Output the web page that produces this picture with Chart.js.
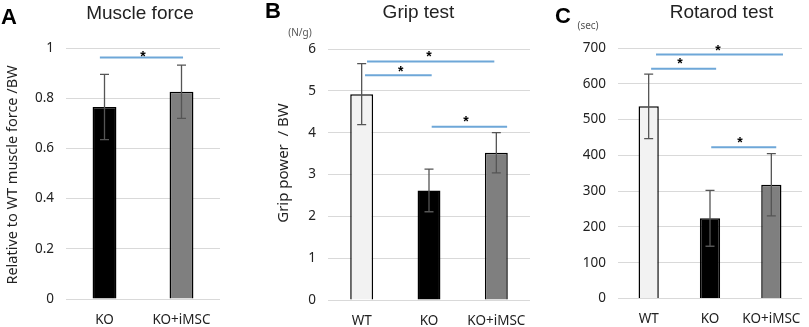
<!DOCTYPE html>
<html>
<head>
<meta charset="utf-8">
<script src="https://cdn.jsdelivr.net/npm/chart.js@4.4.1/dist/chart.umd.min.js"></script>
<style>
  html, body { margin: 0; padding: 0; background: #fff; }
  body { width: 809px; height: 327px; position: relative; overflow: hidden; }
  .panel { position: absolute; top: 0; }
</style>
</head>
<body>
<div class="panel" style="left:0px"><canvas id="cA" width="265" height="327"></canvas></div>
<div class="panel" style="left:265px"><canvas id="cB" width="275" height="327"></canvas></div>
<div class="panel" style="left:540px"><canvas id="cC" width="269" height="327"></canvas></div>
<script>
// ---- data ----
const catsA = ['KO', 'KO+iMSC'];
const muscleForce = [0.765, 0.826];
const muscleForceErr = [0.13, 0.106];
const ticksA = [0, 0.2, 0.4, 0.6, 0.8, 1];

const catsBC = ['WT', 'KO', 'KO+iMSC'];
const gripPower = [4.92, 2.62, 3.52];
const gripErr = [0.73, 0.51, 0.48];
const ticksB = [0, 1, 2, 3, 4, 5, 6];

const rotarod = [537, 224, 318];
const rotarodErr = [90, 78, 87];
const ticksC = [0, 100, 200, 300, 400, 500, 600, 700];

// significance bars: [from category, to category, y value]
const sigA = [[-0.06, 1.02, 0.962]];
const starsA = [[0.5, 0.98]];
const sigB = [[0.08, 1.97, 5.70], [0.05, 1.04, 5.37], [1.04, 2.16, 4.14]];
const starsB = [[1.0, 5.90], [0.58, 5.53], [1.55, 4.33]];
const sigC = [[0.12, 2.19, 682], [0.04, 1.10, 642], [1.02, 2.08, 423]];
const starsC = [[1.13, 701], [0.51, 664], [1.49, 445]];

const fillsA = ['#000000', '#7f7f7f'];
const fillsBC = ['#f2f2f2', '#000000', '#7f7f7f'];

// ---- decoration plugin ----
const decor = {
  id: 'decor',
  afterDatasetsDraw(chart, args, o) {
    const ctx = chart.ctx;
    const xs = chart.scales.x, ys = chart.scales.y;
    const meta = chart.getDatasetMeta(0);
    const vals = chart.data.datasets[0].data;
    ctx.save();
    // error bars
    ctx.strokeStyle = '#555555';
    ctx.lineWidth = 1.3;
    o.err.forEach((e, i) => {
      const x = meta.data[i].x;
      const t = ys.getPixelForValue(vals[i] + e);
      const b = ys.getPixelForValue(vals[i] - e);
      ctx.beginPath();
      ctx.moveTo(x, t); ctx.lineTo(x, b);
      ctx.moveTo(x - 4.5, t); ctx.lineTo(x + 4.5, t);
      ctx.moveTo(x - 4.5, b); ctx.lineTo(x + 4.5, b);
      ctx.stroke();
    });
    // significance lines
    ctx.strokeStyle = '#6ea7d8';
    ctx.lineWidth = 2;
    o.sig.forEach(s => {
      const y = ys.getPixelForValue(s[2]);
      ctx.beginPath();
      ctx.moveTo(xs.getPixelForValue(s[0]), y);
      ctx.lineTo(xs.getPixelForValue(s[1]), y);
      ctx.stroke();
    });
    ctx.fillStyle = '#000';
    ctx.font = 'bold 14px "Liberation Sans"';
    ctx.textAlign = 'center';
    ctx.textBaseline = 'alphabetic';
    o.stars.forEach(s => {
      ctx.fillText('*', xs.getPixelForValue(s[0]), ys.getPixelForValue(s[1]) + 7.5);
    });
    // panel letter
    ctx.textAlign = 'left';
    ctx.font = 'bold 22px "Liberation Sans"';
    ctx.fillText(o.letter, o.letterX, o.letterY);
    // title
    ctx.textAlign = 'center';
    ctx.fillStyle = '#222';
    ctx.font = '19px "Liberation Sans"';
    ctx.fillText(o.title, o.titleX, o.titleY);
    // unit
    if (o.unit) {
      ctx.fillStyle = '#555';
      ctx.font = '10px "Noto Sans"';
      ctx.fillText(o.unit, o.unitX, o.unitY);
    }
    // y title
    if (o.yTitle) {
      ctx.save();
      ctx.translate(o.yTitleX, o.yTitleY);
      ctx.rotate(-Math.PI / 2);
      ctx.fillStyle = '#222';
      ctx.font = o.yTitleFont;
      ctx.textBaseline = 'middle';
      ctx.fillText(o.yTitle, 0, 0);
      ctx.restore();
    }
    ctx.restore();
  }
};

function makeChart(id, cats, vals, fills, barPct, yMin, yMax, ticks, yWidth, xHeight, padTop, padRight, dec) {
  return new Chart(document.getElementById(id), {
    type: 'bar',
    data: {
      labels: cats,
      datasets: [{
        data: vals,
        backgroundColor: fills,
        borderColor: '#000',
        borderWidth: 1.5,
        categoryPercentage: 1,
        barPercentage: barPct
      }]
    },
    options: {
      responsive: false,
      animation: false,
      devicePixelRatio: 1,
      layout: { padding: { top: padTop, right: padRight, left: 0, bottom: 0 } },
      plugins: { legend: { display: false }, tooltip: { enabled: false }, title: { display: false }, decor: dec },
      scales: {
        x: {
          grid: { display: false },
          border: { display: false },
          ticks: { color: '#222', font: { family: '"Noto Sans"', size: 13.5 }, padding: 5,
                   maxRotation: 0, minRotation: 0, autoSkip: false },
          afterFit: s => { s.height = xHeight; }
        },
        y: {
          min: yMin, max: yMax,
          afterBuildTicks: s => { s.ticks = ticks.map(v => ({ value: v })); },
          grid: { color: '#d9d9d9', lineWidth: 1, drawTicks: false },
          border: { display: false },
          ticks: { color: '#222', font: { family: '"Noto Sans"', size: 13.5 }, padding: 12,
                   callback: v => String(v) },
          afterFit: s => { s.width = yWidth; }
        }
      }
    },
    plugins: [decor]
  });
}

makeChart('cA', catsA, muscleForce, fillsA, 0.31, 0, 1, ticksA, 66, 28, 48, 45, {
  err: muscleForceErr, sig: sigA, stars: starsA,
  letter: 'A', letterX: 1, letterY: 24,
  title: 'Muscle force', titleX: 140, titleY: 19,
  yTitle: 'Relative to WT muscle force /BW', yTitleX: 13, yTitleY: 175, yTitleFont: '14.5px "Noto Sans"'
});
makeChart('cB', catsBC, gripPower, fillsBC, 0.34, 0, 6, ticksB, 63, 27, 49, 10, {
  err: gripErr, sig: sigB, stars: starsB,
  letter: 'B', letterX: 0, letterY: 18,
  title: 'Grip test', titleX: 153.5, titleY: 18,
  unit: '(N/g)', unitX: 35, unitY: 36,
  yTitle: 'Grip power  / BW', yTitleX: 19, yTitleY: 163, yTitleFont: '15px "Noto Sans"'
});
makeChart('cC', catsBC, rotarod, fillsBC, 0.33, 0, 700, ticksC, 78, 28.5, 48, 7, {
  err: rotarodErr, sig: sigC, stars: starsC,
  letter: 'C', letterX: 15, letterY: 23,
  title: 'Rotarod test', titleX: 181.5, titleY: 18,
  unit: '(sec)', unitX: 48, unitY: 29
});
</script>
</body>
</html>
